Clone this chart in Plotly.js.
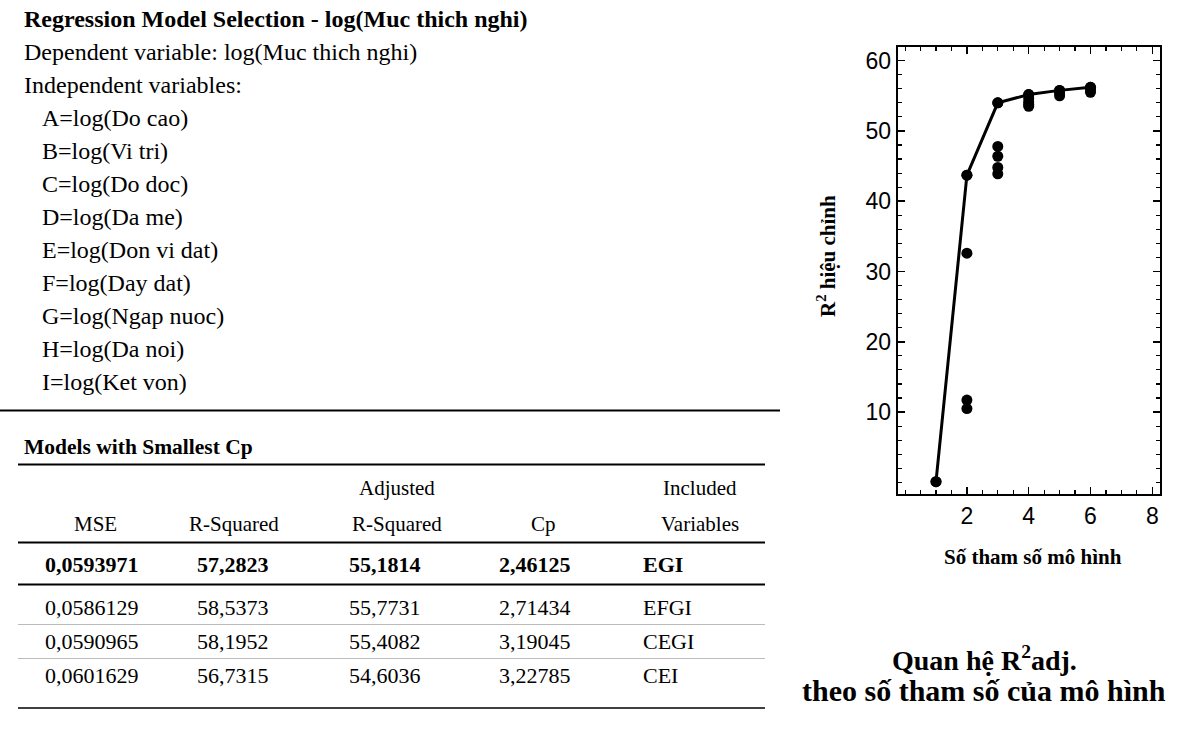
<!DOCTYPE html>
<html>
<head>
<meta charset="utf-8">
<script src="https://cdn.plot.ly/plotly-3.0.1.min.js"></script>
<style>html,body{margin:0;padding:0;background:#fff;}#chart{width:1202px;height:733px;}</style>
</head>
<body>
<div id="chart"></div>
<script>
// ---- Chart data ----
const numParams = [1, 2, 2, 2, 2, 3, 3, 3, 3, 3, 4, 4, 4, 4, 4, 5, 5, 5, 6, 6, 6];
const adjR2     = [0.1, 43.7, 32.6, 11.7, 10.5, 54.0, 47.8, 46.4, 44.8, 43.9, 55.18, 54.6, 54.1, 53.8, 53.5, 55.77, 55.41, 55.0, 56.2, 55.9, 55.5];
const bestParams = [1, 2, 3, 4, 5, 6];
const bestAdjR2  = [0.1, 43.7, 54.0, 55.18, 55.77, 56.2];
const xTickVals = [2, 4, 6, 8];
const xTickText = ['2', '4', '6', '8'];
const yTickVals = [10, 20, 30, 40, 50, 60];
const yTickText = ['10', '20', '30', '40', '50', '60'];

// ---- Text data ----
const reportTitle = 'Regression Model Selection - log(Muc thich nghi)';
const dependentLine = 'Dependent variable: log(Muc thich nghi)';
const independentLine = 'Independent variables:';
const variableList = ['A=log(Do cao)', 'B=log(Vi tri)', 'C=log(Do doc)', 'D=log(Da me)', 'E=log(Don vi dat)', 'F=log(Day dat)', 'G=log(Ngap nuoc)', 'H=log(Da noi)', 'I=log(Ket von)'];
const tableTitle = 'Models with Smallest Cp';
const headerTop = ['', '', 'Adjusted', '', 'Included'];
const headerBottom = ['MSE', 'R-Squared', 'R-Squared', 'Cp', 'Variables'];
const mse = ['0,0593971', '0,0586129', '0,0590965', '0,0601629'];
const rSquared = ['57,2823', '58,5373', '58,1952', '56,7315'];
const adjRSquared = ['55,1814', '55,7731', '55,4082', '54,6036'];
const cpValues = ['2,46125', '2,71434', '3,19045', '3,22785'];
const includedVars = ['EGI', 'EFGI', 'CEGI', 'CEI'];
const yAxisTitle = 'R<sup>2</sup> hiệu chỉnh';
const xAxisTitle = 'Số tham số mô hình';
const captionLines = ['Quan hệ R<sup>2</sup>adj.', 'theo số tham số của mô hình'];

// ---- Layout helpers ----
const W = 1202, H = 733;
const px = x => x / W;
const py = y => 1 - y / H;
const SERIF = 'Liberation Serif, Times New Roman, serif';
const SANS = 'Liberation Sans, Arial, sans-serif';

const annotations = [];
function txt(text, x, y, opts) {
  opts = opts || {};
  annotations.push({
    text: text, x: px(x), y: py(y), xref: 'paper', yref: 'paper',
    xanchor: opts.xanchor || 'left', yanchor: 'middle', showarrow: false,
    font: {family: SERIF, size: opts.size || 24, color: '#000'}
  });
}

// Left report text
const textX = 22, indentX = 40, lineY0 = 19, lineGap = 33;
txt('<b>' + reportTitle + '</b>', textX, lineY0, {size: 24});
txt(dependentLine, textX, lineY0 + lineGap);
txt(independentLine, textX, lineY0 + 2 * lineGap);
variableList.forEach((v, i) => txt(v, indentX, lineY0 + (3 + i) * lineGap));

// Table
txt('<b>' + tableTitle + '</b>', textX, 447, {size: 21.5});
const colCenters = [95, 234, 397, 543, 700];
const valCenters = [92, 233, 385, 535];
const varLeft = 641;
headerTop.forEach((h, i) => { if (h) txt(h, colCenters[i], 488, {xanchor: 'center', size: 21}); });
headerBottom.forEach((h, i) => txt(h, colCenters[i], 524, {xanchor: 'center', size: 21}));
const rowYs = [564, 607, 641, 675];
for (let r = 0; r < mse.length; r++) {
  const wrap = s => r === 0 ? '<b>' + s + '</b>' : s;
  const vals = [mse[r], rSquared[r], adjRSquared[r], cpValues[r]];
  vals.forEach((v, i) => txt(wrap(v), valCenters[i], rowYs[r], {xanchor: 'center', size: 22}));
  txt(wrap(includedVars[r]), varLeft, rowYs[r], {size: 22});
}

// Chart axis titles and caption
txt('<b>' + xAxisTitle + '</b>', 1033, 557, {xanchor: 'center', size: 21});
annotations.push({
  text: '<b>' + yAxisTitle + '</b>', x: px(826), y: py(256), xref: 'paper', yref: 'paper',
  xanchor: 'center', yanchor: 'middle', showarrow: false, textangle: -90,
  font: {family: SERIF, size: 21, color: '#000'}
});
txt('<b>' + captionLines[0] + '</b>', 984, 658, {xanchor: 'center', size: 28});
txt('<b>' + captionLines[1] + '</b>', 984, 690, {xanchor: 'center', size: 30});

// Lines
const shapes = [];
function hline(x0, x1, y, w, c) {
  shapes.push({type: 'line', xref: 'paper', yref: 'paper', x0: px(x0), x1: px(x1), y0: py(y), y1: py(y),
    line: {color: c || '#000', width: w || 2}});
}
hline(0, 780, 410.5, 2);
hline(18, 765, 464.5, 2);
hline(18, 765, 542.5, 2);
hline(18, 765, 584.5, 2);
hline(18, 765, 624.5, 1, '#bbb');
hline(18, 765, 658.5, 1, '#bbb');
hline(18, 765, 708, 1.5);

const traces = [
  {x: numParams, y: adjR2, type: 'scatter', mode: 'markers',
   marker: {color: '#000', size: 11}, hoverinfo: 'x+y'},
  {x: bestParams, y: bestAdjR2, type: 'scatter', mode: 'lines+markers',
   line: {color: '#000', width: 3}, marker: {color: '#000', size: 11}, hoverinfo: 'x+y'}
];

const axisCommon = {
  showgrid: false, zeroline: false, showline: true, linecolor: '#000', linewidth: 2,
  mirror: 'ticks', ticks: 'inside', tickcolor: '#000', tickwidth: 1.5, ticklen: 7,
  tickfont: {family: SANS, size: 23, color: '#000'}, tickmode: 'array', fixedrange: true
};

const layout = {
  width: W, height: H,
  margin: {l: 0, r: 0, t: 0, b: 0},
  paper_bgcolor: '#fff', plot_bgcolor: '#fff',
  showlegend: false,
  xaxis: Object.assign({}, axisCommon, {
    domain: [px(897.7), px(1160)], range: [-0.24, 8.25],
    tickvals: xTickVals, ticktext: xTickText,
    minor: {tickmode: 'linear', tick0: 0, dtick: 0.5, ticks: 'inside', ticklen: 4, tickcolor: '#000', tickwidth: 1.2}
  }),
  yaxis: Object.assign({}, axisCommon, {
    domain: [py(494.3), py(47.3)], range: [-1.7, 61.9],
    tickvals: yTickVals, ticktext: yTickText,
    minor: {tickmode: 'linear', tick0: 0, dtick: 2, ticks: 'inside', ticklen: 4, tickcolor: '#000', tickwidth: 1.2}
  }),
  annotations: annotations,
  shapes: shapes
};

Plotly.newPlot('chart', traces, layout, {displayModeBar: false, staticPlot: true});
</script>
</body>
</html>
